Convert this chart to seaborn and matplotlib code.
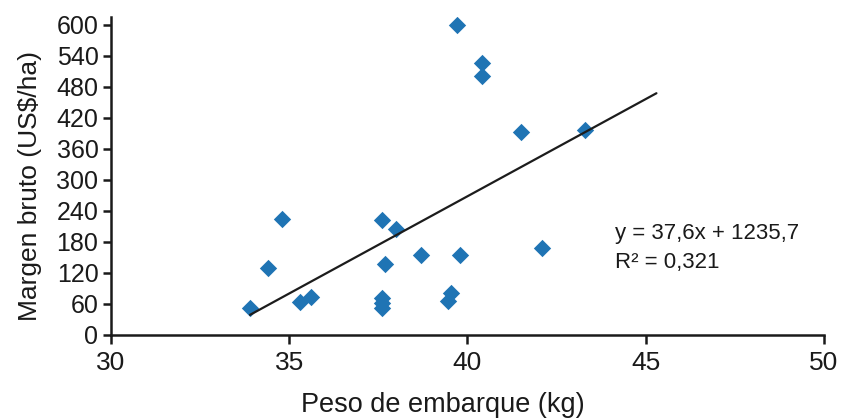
import matplotlib
matplotlib.use("Agg")
import matplotlib.pyplot as plt
import seaborn as sns
import pandas as pd
import numpy as np

# Data
peso = [33.9, 34.4, 34.8, 35.3, 35.6, 37.6, 37.6, 37.6, 37.6, 37.7, 38.0,
        38.7, 39.45, 39.55, 39.8, 39.7, 40.4, 40.4, 41.5, 42.1, 43.3]
margen = [52, 129, 225, 64, 73, 52, 61, 71, 222, 137, 205,
          154, 65, 81, 154, 600, 526, 501, 392, 168, 396]

trend_slope = 37.6
trend_intercept = -1235.7
trend_x = [33.9, 45.3]

x_ticks = [30, 35, 40, 45, 50]
y_ticks = [0, 60, 120, 180, 240, 300, 360, 420, 480, 540, 600]

eq_text = "y = 37,6x + 1235,7"
r2_text = "R² = 0,321"
x_label = "Peso de embarque (kg)"
y_label = "Margen bruto (US$/ha)"

sns.set_theme(style="ticks")
plt.rcParams['font.family'] = ['Liberation Sans', 'DejaVu Sans']

ink = "#1a1a1a"

df = pd.DataFrame({"peso": peso, "margen": margen})
trend = pd.DataFrame({"x": trend_x,
                      "y": [trend_slope * v + trend_intercept for v in trend_x]})

fig = plt.figure(figsize=(8.42, 4.2), dpi=100)
ax = fig.add_axes([0.1318, 0.2024, 0.9786 - 0.1318, 0.9595 - 0.2024])

sns.lineplot(data=trend, x="x", y="y", ax=ax, color="#1c1c1c", linewidth=1.6, zorder=3)
sns.scatterplot(data=df, x="peso", y="margen", ax=ax, marker="D", s=78,
                color="#1f74b4", linewidth=0, zorder=2)

ax.set_xlim(30, 50)
ax.set_ylim(0, 615)
ax.set_xticks(x_ticks)
ax.set_yticks(y_ticks)
ax.set_xticklabels([str(v) for v in x_ticks])
ax.set_yticklabels([str(v) for v in y_ticks])

ax.set_xlabel(x_label, fontsize=19.5, color=ink)
ax.set_ylabel(y_label, fontsize=19, color=ink)
ax.xaxis.set_label_coords(0.466, -0.178)
ax.yaxis.set_label_coords(-0.097, 0.467)

ax.tick_params(axis="x", direction="out", length=6.5, width=1.8, pad=5,
               labelsize=19, colors=ink)
ax.tick_params(axis="y", direction="out", length=6, width=1.8, pad=3,
               labelsize=18, colors=ink)

for side in ["top", "right"]:
    ax.spines[side].set_visible(False)
for side in ["left", "bottom"]:
    ax.spines[side].set_linewidth(1.8)
    ax.spines[side].set_color(ink)

ax.text(44.14, 197, eq_text, fontsize=16, color=ink, va="center", ha="left")
ax.text(44.14, 141, r2_text, fontsize=16, color=ink, va="center", ha="left")

fig.savefig("out.png", dpi=100)
